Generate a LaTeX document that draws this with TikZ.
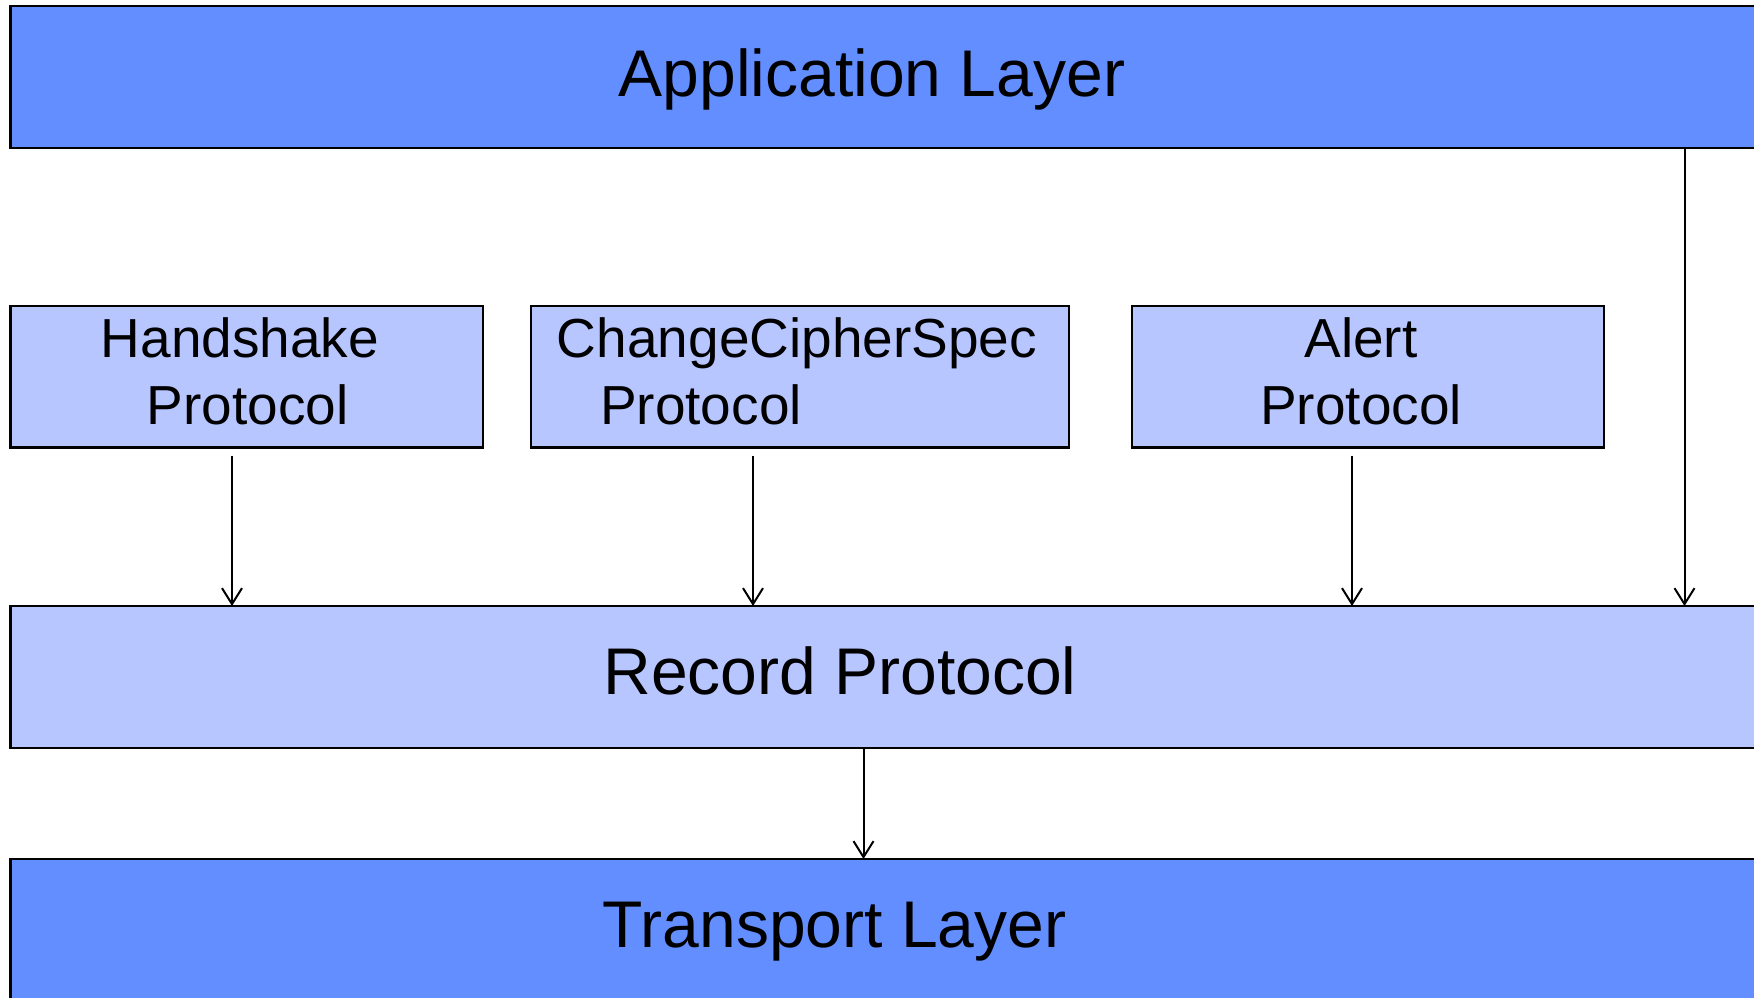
\documentclass[tikz,border=0pt]{standalone}
\usepackage{fontspec}
\setmainfont{Liberation Sans}
\usetikzlibrary{arrows.meta}
\definecolor{layerblue}{RGB}{99,142,255}
\definecolor{protoblue}{RGB}{184,198,255}
\begin{document}
\begin{tikzpicture}[x=1pt,y=-1pt,
  box/.style={draw=black, line width=2.5pt, inner sep=0pt, outer sep=0pt, anchor=north west},
  layer/.style={box, fill=layerblue},
  proto/.style={box, fill=protoblue},
  bigtext/.style={font=\fontsize{66}{79}\selectfont, inner sep=0pt, anchor=base},
  smalltext/.style={font=\fontsize{55}{67.5}\selectfont, inner sep=0pt, anchor=north, align=center},
  arr/.style={line width=2pt, -{Straight Barb[length=16pt,width=20pt,line width=2pt]}}]
\clip (0,0) rectangle (1754,997);
\fill[white] (0,0) rectangle (1754,997);
% boxes
\node[layer, minimum width=1800pt, minimum height=142pt] (app) at (10.5,6) {};
\node[proto, minimum width=472.5pt, minimum height=141.5pt] (hs) at (10.5,306) {};
\node[proto, minimum width=538pt, minimum height=141.5pt] (ccs) at (531,306) {};
\node[proto, minimum width=472pt, minimum height=141.5pt] (alert) at (1132,306) {};
\node[proto, minimum width=1800pt, minimum height=142pt] (rec) at (10.5,606) {};
\node[layer, minimum width=1800pt, minimum height=200pt] (tr) at (10.5,859) {};
% texts
\node[bigtext] (apptext) at (872,96) {Application Layer};
\node[bigtext] (rectext) at (840,694) {Record Protocol};
\node[bigtext] (trtext) at (834.5,947) {Transport Layer};
\node[smalltext] (hstext) at (240,317) {Handshake\\\hspace*{15pt}Protocol};
\node[smalltext] (ccstext) at (797,317) {ChangeCipherSpec\\Protocol\hspace*{192pt}};
\node[smalltext] (alerttext) at (1361,317) {Alert\\Protocol};
% connector x positions
\coordinate (xa) at (232,0);
\coordinate (xb) at (753,0);
\coordinate (xc) at (1352,0);
\coordinate (xd) at (1684.5,0);
\coordinate (xe) at (863.5,0);
% connectors
\draw[arr] ([yshift=-8pt]hs.south -| xa) -- (xa |- rec.north);
\draw[arr] ([yshift=-8pt]ccs.south -| xb) -- (xb |- rec.north);
\draw[arr] ([yshift=-8pt]alert.south -| xc) -- (xc |- rec.north);
\draw[arr] (app.south -| xd) -- (xd |- rec.north);
\draw[arr] (rec.south -| xe) -- (xe |- tr.north);
\end{tikzpicture}
\end{document}
